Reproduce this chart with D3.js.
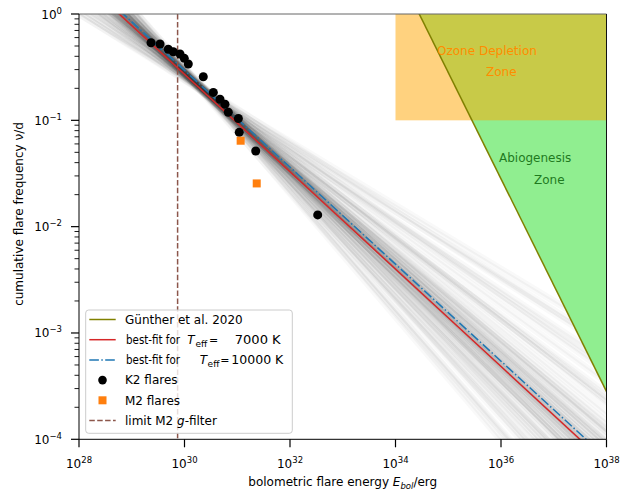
<!DOCTYPE html>
<html><head><meta charset="utf-8">
<script src="https://cdn.jsdelivr.net/npm/d3@7"></script>
<style>
body{margin:0;background:#fff;}
text{font-family:"DejaVu Sans",sans-serif;}
</style></head>
<body><svg id="c" width="628" height="490"></svg>
<script>
// ---- data ----
const k2Energy = [2.32e29,3.44e29,4.93e29,6.14e29,8.22e29,9.91e29,1.18e30,2.27e30,3.52e30,4.71e30,5.86e30,6.76e30,1.05e31,1.09e31,2.24e31,3.35e32];
const k2Freq   = [0.537,0.522,0.466,0.442,0.421,0.383,0.339,0.257,0.183,0.158,0.142,0.119,0.104,0.0771,0.0514,0.0129];
const m2Energy = [1.16e31,2.34e31];
const m2Freq   = [0.0643,0.0255];
// power laws: log10 f = intercept + slope * log10 E
const fit7000  = [13.173,-0.458];
const fit10000 = [13.151,-0.456];
const guenther = [34.45,-1.0];
const limitM2g = 7.4e29;
const ozoneZone = [[1e34,1e38],[0.1,1]];
// posterior sample lines: slope and log10 f at log10 E = 30.3
const fanSlopes = [-0.46,-0.45,-0.47,-0.44,-0.48,-0.43,-0.49,-0.42,-0.50,-0.41,-0.51,-0.40,-0.52,-0.39,-0.53,-0.38,-0.54,-0.37,-0.55,-0.36,-0.56,-0.35,-0.34,-0.57,-0.33,-0.32,-0.58,-0.31,-0.30,-0.46,-0.45,-0.47,-0.455,-0.465,-0.44,-0.48,-0.43,-0.49,-0.42,-0.50,-0.41,-0.45,-0.47,-0.38,-0.52,-0.46,-0.44,-0.48,-0.45,-0.47,-0.43,-0.49,-0.46,-0.42,-0.51];
const fanPivots = [-0.69,-0.70,-0.68,-0.71,-0.67,-0.71,-0.67,-0.70,-0.69,-0.72,-0.66,-0.68,-0.71,-0.67,-0.71,-0.70,-0.68,-0.72,-0.66,-0.69,-0.72,-0.67,-0.70,-0.68,-0.72,-0.67,-0.70,-0.71,-0.69,-0.67,-0.71,-0.66,-0.70,-0.68,-0.68,-0.70,-0.72,-0.67,-0.69,-0.71,-0.68,-0.68,-0.70,-0.70,-0.67,-0.69,-0.68,-0.70,-0.68,-0.70,-0.69,-0.68,-0.70,-0.69,-0.70];
const xTicks = [1e28,1e30,1e32,1e34,1e36,1e38];
const xTickExp = ["28","30","32","34","36","38"];
const yTicks = [1e-4,1e-3,1e-2,1e-1,1];
const yTickExp = ["\u22124","\u22123","\u22122","\u22121","0"];

// ---- layout ----
const L=79, R=606.5, T=14, B=439.3;
const svg=d3.select("#c");
const x=d3.scaleLog().domain([1e28,1e38]).range([L,R]);
const y=d3.scaleLog().domain([1e-4,1]).range([B,T]);
const pl = (p,lE)=>Math.pow(10,p[0]+p[1]*lE);

svg.append("defs").append("clipPath").attr("id","clip")
  .append("rect").attr("x",L).attr("y",T).attr("width",R-L).attr("height",B-T);
const g=svg.append("g").attr("clip-path","url(#clip)");
const line=d3.line().x(d=>x(d[0])).y(d=>y(d[1]));

// fan
fanSlopes.forEach((s,i)=>{
  const p=[fanPivots[i]-s*30.3,s];
  g.append("path").attr("d",line([[1e27,pl(p,27)],[1e39,pl(p,39)]]))
   .attr("stroke","#333").attr("stroke-opacity",0.03).attr("stroke-width",7).attr("fill","none");
  g.append("path").attr("d",line([[1e27,pl(p,27)],[1e39,pl(p,39)]]))
   .attr("stroke","#333").attr("stroke-opacity",0.04).attr("stroke-width",2).attr("fill","none");
});
// zones
const gTopE=Math.pow(10,-guenther[0]/guenther[1]);
g.append("path").attr("d",line([[gTopE,1],[1e38,pl(guenther,38)],[1e38,1]])+"Z")
  .attr("fill","#90ee90");
g.append("rect").attr("x",x(ozoneZone[0][0])).attr("y",y(ozoneZone[1][1]))
  .attr("width",x(ozoneZone[0][1])-x(ozoneZone[0][0])).attr("height",y(ozoneZone[1][0])-y(ozoneZone[1][1]))
  .attr("fill","#ffa500").attr("fill-opacity",0.5);
g.append("path").attr("d",line([[1e27,pl(guenther,27)],[1e39,pl(guenther,39)]]))
  .attr("stroke","#808000").attr("stroke-width",1.5).attr("fill","none");
// limit
g.append("line").attr("x1",x(limitM2g)).attr("x2",x(limitM2g)).attr("y1",T).attr("y2",B)
  .attr("stroke","#8c564b").attr("stroke-width",1.5).attr("stroke-dasharray","5.5,2.4");
// fits
g.append("path").attr("d",line([[1e27,pl(fit7000,27)],[1e39,pl(fit7000,39)]]))
  .attr("stroke","#d62728").attr("stroke-width",1.5).attr("fill","none");
g.append("path").attr("d",line([[1e27,pl(fit10000,27)],[1e39,pl(fit10000,39)]]))
  .attr("stroke","#1f77b4").attr("stroke-width",1.5).attr("fill","none").attr("stroke-dasharray","9.6,2.4,1.5,2.4");
// points
g.selectAll("circle.k2").data(k2Energy).enter().append("circle")
  .attr("cx",d=>x(d)).attr("cy",(d,i)=>y(k2Freq[i])).attr("r",4.5).attr("fill","#000");
g.selectAll("rect.m2").data(m2Energy).enter().append("rect")
  .attr("x",d=>x(d)-4).attr("y",(d,i)=>y(m2Freq[i])-4).attr("width",8).attr("height",8).attr("fill","#ff7f0e");

// zone labels
const zt=(t,xx,yy,c)=>svg.append("text").attr("x",xx).attr("y",yy).attr("font-size",12).attr("fill",c).text(t);
zt("Ozone Depletion",437,55,"#ff8c00");
zt("Zone",486,75.5,"#ff8c00");
zt("Abiogenesis",499,161.5,"#1f7a1f");
zt("Zone",534,184,"#1f7a1f");

// spines
const sp=(x1,y1,x2,y2,c)=>svg.append("line").attr("x1",x1).attr("y1",y1).attr("x2",x2).attr("y2",y2).attr("stroke",c).attr("stroke-width",1);
sp(L,T,R,T,"#666");
sp(R,T,R,B,"#111");
sp(L,T,L,B,"#000");
sp(L,B,R,B,"#000");

// x ticks
xTicks.forEach((t,i)=>{
  svg.append("line").attr("x1",x(t)).attr("x2",x(t)).attr("y1",B).attr("y2",B+8).attr("stroke","#000").attr("stroke-width",1.2);
  const tx=svg.append("text").attr("x",x(t)).attr("y",468).attr("font-size",12).attr("text-anchor","middle");
  tx.append("tspan").text("10");
  tx.append("tspan").attr("dy",-5).attr("font-size",8.5).text(xTickExp[i]);
});
// y ticks
yTicks.forEach((t,i)=>{
  svg.append("line").attr("x1",L-8).attr("x2",L).attr("y1",y(t)).attr("y2",y(t)).attr("stroke","#000").attr("stroke-width",1.2);
  const tx=svg.append("text").attr("x",62).attr("y",y(t)+4.5).attr("font-size",12).attr("text-anchor","end");
  tx.append("tspan").text("10");
  tx.append("tspan").attr("dy",-5).attr("font-size",8.5).text(yTickExp[i]);
  if(t<1){ for(let m=2;m<=9;m++){
    svg.append("line").attr("x1",L-4.5).attr("x2",L).attr("y1",y(t*m)).attr("y2",y(t*m)).attr("stroke","#000").attr("stroke-width",0.9);
  }}
});
// axis labels
const xl=svg.append("text").attr("x",(L+R)/2).attr("y",486).attr("font-size",12).attr("text-anchor","middle");
xl.append("tspan").text("bolometric flare energy ");
xl.append("tspan").attr("font-style","italic").text("E");
xl.append("tspan").attr("font-style","italic").attr("font-size",8.5).attr("dy",2.5).text("bol");
xl.append("tspan").attr("dy",-2.5).text("/erg");
svg.append("text").attr("transform","translate(23,214) rotate(-90)").attr("font-size",12)
  .attr("text-anchor","middle").text("cumulative flare frequency \u03bd/d");

// legend
const lg=svg.append("g");
lg.append("rect").attr("x",85.7).attr("y",310).attr("width",206.6).attr("height",123.3).attr("rx",3)
  .attr("fill","#fff").attr("fill-opacity",0.8).attr("stroke","#ccc").attr("stroke-width",1);
const rows=[319.5,339.7,359.9,380.1,400.3,420.5];
const hl=(yy,c,da)=>{const l=lg.append("line").attr("x1",89.3).attr("x2",115.7).attr("y1",yy).attr("y2",yy).attr("stroke",c).attr("stroke-width",1.5); if(da) l.attr("stroke-dasharray",da);};
hl(rows[0],"#808000");
hl(rows[1],"#d62728");
hl(rows[2],"#1f77b4","9.6,2.4,1.5,2.4");
lg.append("circle").attr("cx",102.5).attr("cy",rows[3]).attr("r",4.3).attr("fill","#000");
lg.append("rect").attr("x",98.5).attr("y",rows[4]-4).attr("width",8).attr("height",8).attr("fill","#ff7f0e");
hl(rows[5],"#8c564b","5.5,2.4");
const lt=(t,xx,yy)=>lg.append("text").attr("x",xx).attr("y",yy+4.3).attr("font-size",12).text(t);
lt("G\u00fcnther et al. 2020",125,rows[0]);
// fit rows: one text per row, pieces positioned with tspans
const fitRow=(yy,xs,num,numW)=>{
  const e=lg.append("text").attr("y",yy+4.3).attr("font-size",12);
  e.append("tspan").attr("x",126).attr("textLength",54).attr("lengthAdjust","spacingAndGlyphs").text("best-fit for");
  e.append("tspan").attr("x",xs[0]).attr("font-style","italic").text("T");
  e.append("tspan").attr("x",xs[1]).attr("dy",3).attr("font-size",9).text("eff");
  e.append("tspan").attr("x",xs[2]).attr("dy",-3).attr("font-size",11).text("=");
  e.append("tspan").attr("x",xs[3]).attr("textLength",numW).attr("lengthAdjust","spacingAndGlyphs").text(num);
};
fitRow(rows[1],[187.3,195.4,209,234.7],"7000 K",46);
fitRow(rows[2],[199.7,207.6,220.2,231.3],"10000 K",52);
lt("K2 flares",125,rows[3]);
lt("M2 flares",125,rows[4]);
const l6=lt("limit M2 ",125,rows[5]);
l6.append("tspan").attr("font-style","italic").text("g");
l6.append("tspan").text("-filter");
</script></body></html>
